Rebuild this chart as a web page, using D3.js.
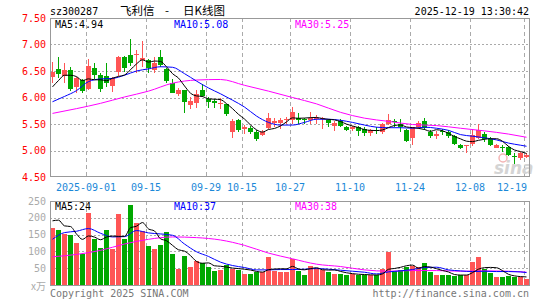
<!DOCTYPE html>
<html>
<head>
<meta charset="utf-8">
<script src="https://cdn.jsdelivr.net/npm/d3@7"></script>
<style>
  html, body { margin: 0; padding: 0; background: #fff; }
  svg { display: block; }
  text { font-family: "DejaVu Sans Mono", monospace; font-size: 10px; }
</style>
</head>
<body>
<svg id="chart" width="545" height="300"></svg>
<script>
// trading days shown (2025)
const dates = [
  "08-22","08-25","08-26","08-27","08-28","08-29",
  "09-01","09-02","09-03","09-04","09-05","09-08","09-09","09-10","09-11","09-12",
  "09-15","09-16","09-17","09-18","09-19","09-22","09-23","09-24","09-25","09-26",
  "09-29","09-30","10-09","10-10","10-13","10-14","10-15","10-16","10-17",
  "10-20","10-21","10-22","10-23","10-24","10-27","10-28","10-29","10-30","10-31",
  "11-03","11-04","11-05","11-06","11-07","11-10","11-11","11-12","11-13","11-14",
  "11-17","11-18","11-19","11-20","11-21","11-24","11-25","11-26","11-27","11-28",
  "12-01","12-02","12-03","12-04","12-05","12-08","12-09","12-10","12-11","12-12",
  "12-15","12-16","12-17","12-18","12-19"
];

const opens = [
  6.38,6.54,6.41,6.52,6.19,6.33,6.16,6.56,6.43,6.41,
  6.22,6.49,6.77,6.80,6.80,6.70,6.70,6.51,6.76,6.54,
  6.28,6.06,6.14,5.85,5.90,6.14,5.98,5.93,5.87,5.87,
  5.35,5.57,5.40,5.43,5.35,5.29,5.43,5.52,5.52,5.57,
  5.57,5.62,5.60,5.58,5.60,5.60,5.58,5.46,5.56,5.44,
  5.40,5.45,5.41,5.33,5.38,5.35,5.50,5.55,5.50,5.39,
  5.24,5.44,5.55,5.35,5.27,5.36,5.34,5.27,5.10,5.09,
  5.12,5.24,5.32,5.21,5.05,5.07,5.07,4.89,4.85,4.88
];
const highs = [
  6.67,6.77,6.65,6.58,6.39,6.35,6.73,6.65,6.46,6.65,
  6.39,6.79,6.79,7.11,6.90,7.06,6.72,6.77,6.90,6.56,
  6.35,6.17,6.15,6.01,6.15,6.26,6.01,5.97,5.99,5.88,
  5.60,5.60,5.48,5.46,5.38,5.38,5.71,5.62,5.62,5.64,
  5.82,5.70,5.62,5.73,5.67,5.64,5.60,5.56,5.60,5.47,
  5.47,5.47,5.44,5.41,5.44,5.51,5.68,5.59,5.59,5.41,
  5.45,5.56,5.62,5.38,5.36,5.40,5.38,5.29,5.13,5.10,
  5.41,5.50,5.35,5.25,5.13,5.10,5.09,4.95,4.98,4.96
];
const lows = [
  6.27,6.36,6.27,6.12,6.08,6.09,6.14,6.35,6.10,6.19,
  6.11,6.41,6.48,6.60,6.46,6.58,6.46,6.46,6.58,6.28,
  6.08,6.03,5.71,5.78,5.81,6.01,5.81,5.80,5.78,5.65,
  5.24,5.35,5.32,5.32,5.17,5.27,5.41,5.45,5.41,5.50,
  5.50,5.50,5.50,5.50,5.50,5.41,5.44,5.37,5.44,5.36,
  5.36,5.28,5.27,5.27,5.31,5.32,5.48,5.44,5.35,5.16,
  5.10,5.41,5.38,5.24,5.21,5.29,5.23,5.10,5.03,4.95,
  5.09,5.22,5.16,5.08,5.04,4.97,4.89,4.75,4.82,4.85
];
const closes = [
  6.49,6.44,6.52,6.16,6.36,6.12,6.60,6.43,6.16,6.27,
  6.36,6.77,6.56,6.66,6.82,6.74,6.56,6.66,6.62,6.32,
  6.09,6.14,5.92,5.94,6.06,6.03,5.92,5.89,5.90,5.68,
  5.56,5.38,5.45,5.34,5.22,5.35,5.62,5.55,5.58,5.60,
  5.73,5.58,5.57,5.62,5.62,5.62,5.51,5.52,5.46,5.38,
  5.44,5.36,5.33,5.39,5.36,5.50,5.58,5.53,5.44,5.17,
  5.44,5.51,5.42,5.27,5.32,5.34,5.27,5.12,5.05,5.10,
  5.30,5.39,5.22,5.10,5.10,5.06,4.91,4.88,4.95,4.92
];
// volume, 万手
const volumes = [
  171,163,153,148,124,91,214,136,109,163,
  106,210,136,237,186,160,115,106,120,158,
  91,49,86,53,72,64,54,43,46,60,
  49,46,34,34,39,39,82,43,38,38,
  76,43,31,56,51,46,38,33,34,31,
  33,29,29,29,29,49,98,41,46,53,
  58,53,64,39,29,31,31,26,31,29,
  67,83,48,35,24,24,28,25,24,19
];

// MA5 of the first 4 days (window starts before the chart)
const priceMa5Head = [6.20, 6.32, 6.42, 6.42];
const volMa5Head = [191, 193, 176, 174];

// MA10 read every 2nd day (day 1,3,...,79, 80)
const priceMa10 = [
  5.92,6.02,6.13,6.30,6.35,6.36,6.42,6.50,6.54,6.58,
  6.57,6.45,6.31,6.18,6.07,5.95,5.82,5.65,5.53,5.48,
  5.48,5.53,5.59,5.59,5.57,5.53,5.48,5.44,5.43,5.43,
  5.42,5.44,5.42,5.38,5.30,5.27,5.24,5.20,5.14,5.10,5.08
];
const volMa10 = [
  136,156,160,168,154,143,144,162,155,152,
  148,122,99,85,68,58,52,45,45,46,
  46,47,49,47,44,41,38,33,39,42,
  46,52,53,45,42,40,41,40,40,39,37
];
// MA30 read every 4th day (day 1,5,...,77, 80)
const priceMa30 = [
  5.70,5.79,5.89,6.01,6.12,6.27,6.33,6.34,6.23,6.12,
  6.00,5.88,5.72,5.61,5.55,5.49,5.47,5.42,5.37,5.31,5.25
];
const volMa30 = [
  84,91,103,122,136,143,141,134,118,95,
  78,62,55,45,41,43,43,41,42,41,38
];

const tickDates = ["09-01","09-15","09-29","10-15","10-27","11-10","11-24","12-08","12-19"];
const tickLabels = ["2025-09-01","09-15","09-29","10-15","10-27","11-10","11-24","12-08","12-19"];
const priceTicks = [4.5, 5.0, 5.5, 6.0, 6.5, 7.0, 7.5];
const volTicks = [50, 100, 150, 200, 250];

const RED = "#ff5555", GREEN = "#00a800";
const GRID = "#aaaaaa", FRAME = "#999999";

const svg = d3.select("#chart");
const n = dates.length;
const idx = d3.range(n);
const idx2 = d3.range(0, n, 2).concat(n - 1);
const idx4 = d3.range(0, n, 4).concat(n - 1);

const x = d3.scaleBand().domain(dates).range([50, 530]);
const y = d3.scaleLinear().domain([4.5, 7.5]).range([177, 18]);
const yv = d3.scaleLinear().domain([0, 250]).range([285, 201]);
const cx = i => x(dates[i]) + 2.5;
const crisp = v => Math.round(v) + 0.5;

const ma5 = (arr, head) => idx.map(i => i < 4 ? head[i] : d3.mean(arr.slice(i - 4, i + 1)));
const priceMa5 = ma5(closes, priceMa5Head);
const volMa5 = ma5(volumes, volMa5Head);

// header
svg.append("text").attr("x", 50).attr("y", 15).text("sz300287");
const cjk = "'Noto Sans CJK SC', sans-serif";
svg.append("text").attr("x", 120).attr("y", 15).style("font-family", cjk).style("font-size", "11.5px").text("飞利信");
svg.append("text").attr("x", 165).attr("y", 15).style("font-family", cjk).style("font-size", "11.5px").text("-");
svg.append("text").attr("x", 183).attr("y", 15).style("font-family", cjk).style("font-size", "11.5px").text("日K线图");
svg.append("text").attr("x", 529).attr("y", 15).attr("text-anchor", "end").text("2025-12-19 13:30:42");

// grids
const g = svg.append("g");
priceTicks.filter(v => v > 4.5 && v < 7.5).forEach(v => {
  g.append("line").attr("x1", 50).attr("x2", 530).attr("y1", crisp(y(v))).attr("y2", crisp(y(v)))
    .attr("stroke", GRID).attr("stroke-dasharray", "2,2");
});
volTicks.filter(v => v < 250).forEach(v => {
  g.append("line").attr("x1", 50).attr("x2", 530).attr("y1", crisp(yv(v))).attr("y2", crisp(yv(v)))
    .attr("stroke", GRID).attr("stroke-dasharray", "2,2");
});
tickDates.forEach(d => {
  const xx = x(d) + 0.5;
  [[18, 177], [201, 285]].forEach(([a, b]) => {
    g.append("line").attr("x1", xx).attr("x2", xx).attr("y1", a).attr("y2", b)
      .attr("stroke", GRID).attr("stroke-dasharray", "4,3");
  });
});

// watermark
svg.append("circle").attr("cx", 503).attr("cy", 158).attr("r", 4)
  .attr("fill", "none").attr("stroke", "#f3b5b5").attr("stroke-width", 1.5);
svg.append("text").attr("x", 494).attr("y", 174)
  .style("font-family", "'DejaVu Sans', sans-serif").style("font-size", "17px")
  .style("font-weight", "bold").style("font-style", "italic")
  .attr("fill", "#d4d4d4").text("sina");

// candles
const candles = svg.append("g");
idx.forEach(i => {
  const up = closes[i] >= opens[i];
  const col = up ? RED : GREEN;
  candles.append("line").attr("x1", cx(i)).attr("x2", cx(i))
    .attr("y1", Math.round(y(highs[i]))).attr("y2", Math.round(y(lows[i])))
    .attr("stroke", col);
  const top = Math.round(y(Math.max(opens[i], closes[i])));
  const bot = Math.round(y(Math.min(opens[i], closes[i])));
  candles.append("rect").attr("x", x(dates[i])).attr("width", 5)
    .attr("y", top).attr("height", Math.max(1, bot - top)).attr("fill", col);
});

// volume bars
svg.append("g").selectAll("rect").data(idx).join("rect")
  .attr("x", i => x(dates[i])).attr("width", 5)
  .attr("y", i => Math.round(yv(volumes[i])))
  .attr("height", i => yv(0) - Math.round(yv(volumes[i])))
  .attr("fill", i => closes[i] >= opens[i] ? RED : GREEN);

// MA lines
function maLine(points, vals, scale, color) {
  const line = d3.line().x((p, k) => cx(p)).y((p, k) => scale(vals[k])).curve(d3.curveMonotoneX);
  svg.append("path").attr("d", line(points)).attr("fill", "none")
    .attr("stroke", color).attr("stroke-width", 1);
}
maLine(idx4, priceMa30, y, "#ff00ff");
maLine(idx2, priceMa10, y, "#0000ff");
maLine(idx, priceMa5, y, "#000000");
maLine(idx4, volMa30, yv, "#ff00ff");
maLine(idx2, volMa10, yv, "#0000ff");
maLine(idx, volMa5, yv, "#000000");

// frames
svg.append("rect").attr("x", 50.5).attr("y", 18.5).attr("width", 479).attr("height", 158)
  .attr("fill", "none").attr("stroke", FRAME);
svg.append("rect").attr("x", 50.5).attr("y", 201.5).attr("width", 479).attr("height", 84)
  .attr("fill", "none").attr("stroke", FRAME);

// legends
const last = a => a[a.length - 1];
svg.append("text").attr("x", 55).attr("y", 28).attr("fill", "#000").text("MA5:" + last(priceMa5).toFixed(2));
svg.append("text").attr("x", 174).attr("y", 28).attr("fill", "#0000ff").text("MA10:" + last(priceMa10).toFixed(2));
svg.append("text").attr("x", 295).attr("y", 28).attr("fill", "#ff00ff").text("MA30:" + last(priceMa30).toFixed(2));
svg.append("text").attr("x", 55).attr("y", 210).attr("fill", "#000").text("MA5:" + Math.round(last(volMa5)));
svg.append("text").attr("x", 174).attr("y", 210).attr("fill", "#0000ff").text("MA10:" + Math.round(last(volMa10)));
svg.append("text").attr("x", 295).attr("y", 210).attr("fill", "#ff00ff").text("MA30:" + Math.round(last(volMa30)));

// price axis labels
svg.append("g").selectAll("text").data(priceTicks).join("text")
  .attr("x", 46).attr("y", d => y(d) + 3.5).attr("text-anchor", "end")
  .attr("fill", "#ff0000").text(d => d.toFixed(2));
// volume axis labels
svg.append("g").selectAll("text").data(volTicks).join("text")
  .attr("x", 46).attr("y", d => yv(d) + 3.5).attr("text-anchor", "end")
  .attr("fill", "#aaaaaa").text(d => d);
svg.append("text").attr("x", 46).attr("y", 290).attr("text-anchor", "end")
  .attr("fill", "#aaaaaa").style("font-family", cjk).style("font-size", "10px").text("x万");

// date labels
tickDates.forEach((d, k) => {
  const w = tickLabels[k].length * 6;
  const px = Math.min(x(d), 527 - w / 2);
  svg.append("text").attr("x", px).attr("y", 191).attr("text-anchor", "middle")
    .attr("fill", "#1a88d8").text(tickLabels[k]);
});

// footer
svg.append("text").attr("x", 50).attr("y", 297).attr("fill", "#777").text("Copyright 2025 SINA.COM");
svg.append("text").attr("x", 529).attr("y", 297).attr("text-anchor", "end").attr("fill", "#777").text("http://finance.sina.com.cn");
</script>
</body>
</html>
